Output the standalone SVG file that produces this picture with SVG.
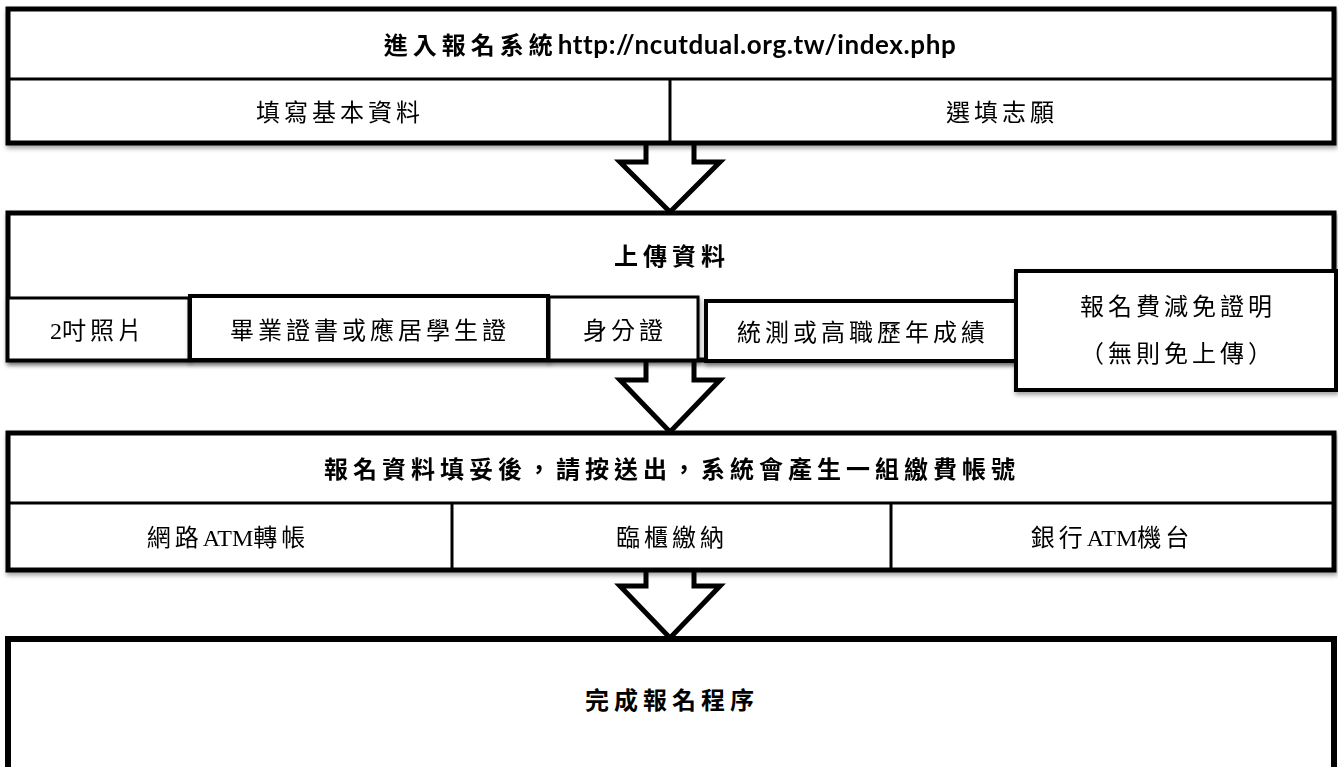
<svg xmlns="http://www.w3.org/2000/svg" width="1338" height="767" viewBox="0 0 1338 767">
<defs>
<filter id="sh" x="-5%" y="-10%" width="110%" height="130%">
<feDropShadow dx="1" dy="3" stdDeviation="2" flood-color="#000" flood-opacity="0.35"/>
</filter>
<style>
.box{fill:#fff;stroke:#000;stroke-width:5}
.cell{fill:#fff;stroke:#000;stroke-width:3}
.div{stroke:#000;stroke-width:3;fill:none}
.arrow{fill:#fff;stroke:#000;stroke-width:5;stroke-linejoin:miter}
.t{font-family:"Liberation Serif","Noto Sans CJK TC",serif;font-size:24px;letter-spacing:4px;text-anchor:middle;fill:#000}
.b{font-family:"Liberation Serif","Noto Sans CJK TC",serif;font-size:24px;letter-spacing:5px;font-weight:bold;text-anchor:middle;fill:#000}
.url{font-family:Lato,"Liberation Sans",sans-serif;font-weight:bold;font-size:26px;letter-spacing:0.6px}
.lat{letter-spacing:0}
</style>
</defs>
<g id="connectors">
<path class="arrow" d="M646,143 L646,162 L620,162 L670,212 L720,162 L694,162 L694,143"/>
<path class="arrow" d="M646,360 L646,380 L620,380 L670,432 L720,380 L694,380 L694,360"/>
<path class="arrow" d="M646,570 L646,586 L620,586 L670,638 L720,586 L694,586 L694,570"/>
</g>
<g id="node1" filter="url(#sh)">
<rect class="box" x="8" y="9" width="1326" height="134"/>
<line class="div" x1="8" y1="79" x2="1334" y2="79"/>
<line class="div" x1="670" y1="79" x2="670" y2="143"/>
<text class="b" x="670" y="54">進入報名系統<tspan class="url">http://ncutdual.org.tw/index.php</tspan></text>
<text class="t" x="340" y="121">填寫基本資料</text>
<text class="t" x="1002" y="121">選填志願</text>
</g>
<g id="node2" filter="url(#sh)">
<rect class="box" x="8" y="213" width="1326" height="147"/>
<text class="b" x="672" y="265">上傳資料</text>
</g>
<g id="node2a" filter="url(#sh)">
<rect class="cell" x="8" y="298" width="181" height="62"/>
<text class="t" x="98" y="339"><tspan class="lat">2</tspan>吋照片</text>
</g>
<g id="node2b" filter="url(#sh)">
<rect class="cell" x="190" y="296" width="358" height="64" style="stroke-width:4"/>
<text class="t" x="370" y="339">畢業證書或應居學生證</text>
</g>
<g id="node2c" filter="url(#sh)">
<rect class="cell" x="549" y="297" width="149" height="63"/>
<text class="t" x="625" y="339">身分證</text>
</g>
<g id="node2d" filter="url(#sh)">
<rect class="cell" x="706" y="301" width="311" height="60" style="stroke-width:4"/>
<text class="t" x="863" y="341">統測或高職歷年成績</text>
</g>
<g id="node2e" filter="url(#sh)">
<rect class="cell" x="1016" y="271" width="320" height="119" style="stroke-width:4"/>
<text class="t" x="1178" y="315">報名費減免證明</text>
<text class="t" x="1178" y="362">（無則免上傳）</text>
</g>
<g id="node3" filter="url(#sh)">
<rect class="box" x="8" y="433" width="1326" height="137"/>
<line class="div" x1="8" y1="503" x2="1334" y2="503"/>
<line class="div" x1="452" y1="503" x2="452" y2="570"/>
<line class="div" x1="891" y1="503" x2="891" y2="570"/>
<text class="b" x="672" y="478">報名資料填妥後，請按送出，系統會產生一組繳費帳號</text>
<text class="t" x="228" y="546">網路<tspan class="lat">ATM</tspan>轉帳</text>
<text class="t" x="672" y="546">臨櫃繳納</text>
<text class="t" x="1112" y="546">銀行<tspan class="lat">ATM</tspan>機台</text>
</g>
<g id="node4">
<rect class="box" x="8" y="639" width="1326" height="150" style="stroke-width:6"/>
<text class="b" x="672" y="709">完成報名程序</text>
</g>
</svg>
